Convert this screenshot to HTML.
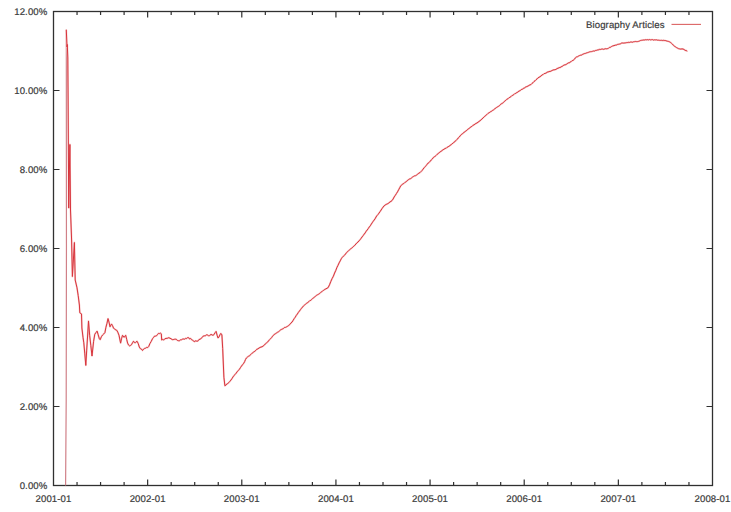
<!DOCTYPE html>
<html><head><meta charset="utf-8"><style>
html,body{margin:0;padding:0;background:#fff;}
body{width:731px;height:512px;overflow:hidden;}
svg{display:block;}
text{font-family:"Liberation Sans",sans-serif;font-size:9.6px;letter-spacing:0.1px;text-rendering:geometricPrecision;fill:#3c3c3c;stroke:#3c3c3c;stroke-width:0.2px;}
</style></head><body>
<svg width="731" height="512" viewBox="0 0 731 512">
<rect x="0" y="0" width="731" height="512" fill="#fff"/>
<path d="M53.5,485.50 h6 M712.5,485.50 h-6 M53.5,406.50 h6 M712.5,406.50 h-6 M53.5,327.50 h6 M712.5,327.50 h-6 M53.5,248.50 h6 M712.5,248.50 h-6 M53.5,169.50 h6 M712.5,169.50 h-6 M53.5,90.50 h6 M712.5,90.50 h-6 M53.5,11.50 h6 M712.5,11.50 h-6 M77.04,485.5 v-3.5 M77.04,11.5 v3.5 M100.57,485.5 v-3.5 M100.57,11.5 v3.5 M124.11,485.5 v-3.5 M124.11,11.5 v3.5 M147.64,485.5 v-6 M147.64,11.5 v6 M171.18,485.5 v-3.5 M171.18,11.5 v3.5 M194.71,485.5 v-3.5 M194.71,11.5 v3.5 M218.25,485.5 v-3.5 M218.25,11.5 v3.5 M241.79,485.5 v-6 M241.79,11.5 v6 M265.32,485.5 v-3.5 M265.32,11.5 v3.5 M288.86,485.5 v-3.5 M288.86,11.5 v3.5 M312.39,485.5 v-3.5 M312.39,11.5 v3.5 M335.93,485.5 v-6 M335.93,11.5 v6 M359.46,485.5 v-3.5 M359.46,11.5 v3.5 M383.00,485.5 v-3.5 M383.00,11.5 v3.5 M406.54,485.5 v-3.5 M406.54,11.5 v3.5 M430.07,485.5 v-6 M430.07,11.5 v6 M453.61,485.5 v-3.5 M453.61,11.5 v3.5 M477.14,485.5 v-3.5 M477.14,11.5 v3.5 M500.68,485.5 v-3.5 M500.68,11.5 v3.5 M524.21,485.5 v-6 M524.21,11.5 v6 M547.75,485.5 v-3.5 M547.75,11.5 v3.5 M571.29,485.5 v-3.5 M571.29,11.5 v3.5 M594.82,485.5 v-3.5 M594.82,11.5 v3.5 M618.36,485.5 v-6 M618.36,11.5 v6 M641.89,485.5 v-3.5 M641.89,11.5 v3.5 M665.43,485.5 v-3.5 M665.43,11.5 v3.5 M688.96,485.5 v-3.5 M688.96,11.5 v3.5" stroke="#303030" stroke-width="1.2" fill="none"/>
<rect x="53.5" y="11.5" width="659.0" height="474.0" stroke="#303030" stroke-width="1.3" fill="none"/>
<text x="47.4" y="488.80" text-anchor="end">0.00%</text>
<text x="47.4" y="409.80" text-anchor="end">2.00%</text>
<text x="47.4" y="330.80" text-anchor="end">4.00%</text>
<text x="47.4" y="251.80" text-anchor="end">6.00%</text>
<text x="47.4" y="172.80" text-anchor="end">8.00%</text>
<text x="47.4" y="93.80" text-anchor="end">10.00%</text>
<text x="47.4" y="14.80" text-anchor="end">12.00%</text>
<text x="53.50" y="501.5" text-anchor="middle">2001-01</text>
<text x="147.64" y="501.5" text-anchor="middle">2002-01</text>
<text x="241.79" y="501.5" text-anchor="middle">2003-01</text>
<text x="335.93" y="501.5" text-anchor="middle">2004-01</text>
<text x="430.07" y="501.5" text-anchor="middle">2005-01</text>
<text x="524.21" y="501.5" text-anchor="middle">2006-01</text>
<text x="618.36" y="501.5" text-anchor="middle">2007-01</text>
<text x="712.50" y="501.5" text-anchor="middle">2008-01</text>

<text x="664.6" y="28.3" text-anchor="end">Biography Articles</text>
<path d="M671.5,24.4 H701" stroke="#dc6464" stroke-width="1.1" fill="none"/>
<path d="M65.6,485.5 L66.2,400 L66.45,245 L66.3,29.7" stroke="#d08088" stroke-width="1.2" fill="none"/>
<path d="M66.3,29.7 L67.0,47.0 L67.3,44.5 L67.8,58.0 L68.1,100.0 L68.5,170.0 L68.7,208.0 L69.9,144.5 L70.5,210.0 L71.6,240.0 L72.4,276.5 L74.4,242.5 L75.2,280.0 L77.0,287.8 L78.2,295.6 L79.4,305.0 L79.8,312.8 L81.5,313.9 L81.9,328.0 L83.0,337.3 L83.8,342.8 L84.8,353.9 L85.8,365.4 L86.7,350.1 L87.6,336.0 L88.5,321.0 L89.7,335.8 L90.8,345.3 L92.0,356.0 L93.6,341.3 L94.8,334.2 L95.9,332.7 L97.1,331.1 L98.2,334.8 L99.4,338.9 L100.2,339.7 L101.4,336.7 L102.6,335.0 L103.8,333.9 L104.9,332.7 L105.9,327.4 L107.0,323.2 L108.0,318.6 L109.0,322.1 L110.0,326.8 L111.5,324.0 L112.5,325.6 L113.6,328.3 L114.6,328.8 L115.7,330.0 L116.7,330.2 L117.8,332.2 L119.0,335.3 L120.6,343.1 L121.5,338.8 L122.5,335.3 L124.1,337.3 L125.7,335.3 L126.7,339.4 L127.6,343.1 L128.6,345.1 L129.6,345.9 L130.6,345.4 L131.5,344.7 L132.5,342.8 L133.5,341.2 L134.4,342.6 L135.4,342.7 L137.0,341.2 L138.2,343.5 L139.3,347.0 L140.4,348.7 L141.4,349.0 L142.5,350.5 L143.5,349.2 L144.6,348.4 L145.6,348.2 L146.6,347.4 L147.7,347.5 L148.7,346.5 L149.9,343.6 L151.1,341.6 L152.7,338.4 L153.6,337.4 L154.6,336.1 L155.6,336.1 L156.6,335.7 L157.6,334.4 L158.5,333.4 L159.4,333.6 L160.4,333.1 L161.3,333.8 L161.7,340.0 L162.6,339.4 L163.6,340.0 L164.8,338.8 L166.0,338.4 L167.3,338.3 L168.7,337.7 L169.9,338.2 L171.0,338.7 L172.2,339.6 L173.2,339.6 L174.3,339.3 L175.3,339.2 L176.3,339.3 L177.3,340.4 L178.3,340.7 L179.3,340.8 L180.3,339.9 L181.4,339.8 L182.4,339.2 L183.4,339.0 L184.5,339.2 L185.5,338.4 L186.6,338.5 L187.6,337.6 L188.7,337.7 L189.6,339.0 L190.6,338.4 L191.5,339.6 L192.7,340.3 L193.8,341.2 L194.8,341.6 L195.8,340.7 L196.7,341.2 L197.7,341.2 L198.9,339.6 L200.1,339.2 L201.1,338.4 L202.2,337.5 L203.2,336.1 L204.2,335.8 L205.3,335.8 L206.3,334.9 L207.3,334.9 L208.4,335.7 L209.4,335.7 L211.0,334.4 L212.2,335.0 L213.3,335.3 L214.2,334.1 L215.2,332.6 L216.1,331.4 L217.1,335.2 L218.0,338.0 L218.9,337.1 L219.9,334.9 L220.8,333.4 L221.9,334.9 L222.7,348.6 L223.9,377.3 L224.9,385.8 L225.9,385.1 L226.9,383.9 L227.8,383.5 L228.8,382.6 L229.9,381.3 L230.9,380.1 L232.0,378.6 L233.0,376.9 L234.1,375.6 L235.1,374.3 L236.2,373.2 L237.2,371.6 L238.3,370.6 L239.3,369.4 L240.4,367.7 L241.5,366.1 L242.6,364.6 L243.7,363.3 L244.6,361.7 L245.5,359.5 L246.4,358.0 L247.5,357.0 L248.6,356.2 L249.7,355.6 L250.8,354.5 L251.8,353.4 L252.8,352.7 L253.8,351.9 L254.9,351.2 L255.9,350.3 L256.9,349.2 L257.9,348.9 L259.0,348.0 L260.0,347.5 L261.0,347.0 L262.1,346.8 L263.1,346.0 L264.2,345.3 L265.3,343.9 L266.4,343.0 L267.5,342.2 L268.5,340.9 L269.5,339.7 L270.6,338.7 L271.6,337.6 L272.6,336.2 L273.6,335.2 L274.6,334.1 L275.6,333.6 L276.6,332.9 L277.6,332.2 L278.6,331.7 L279.6,330.8 L280.6,329.9 L281.6,329.4 L282.6,328.9 L283.6,328.4 L284.6,327.4 L285.6,327.4 L286.6,326.8 L287.6,326.3 L288.6,325.5 L289.8,324.5 L290.9,323.1 L292.1,322.0 L293.1,320.4 L294.2,318.6 L295.2,317.3 L296.3,315.4 L297.3,314.1 L298.4,312.4 L299.4,311.1 L300.5,309.6 L301.5,308.3 L302.6,307.0 L303.6,305.8 L304.7,304.9 L305.7,304.1 L306.7,303.2 L307.8,302.5 L308.8,301.7 L309.8,300.6 L310.8,300.4 L311.7,299.4 L312.7,298.4 L313.7,297.7 L314.7,296.9 L315.6,296.2 L316.6,295.3 L317.6,294.7 L318.6,294.2 L319.6,293.5 L320.6,292.5 L321.7,291.8 L322.7,290.8 L323.7,290.3 L324.8,289.4 L325.9,288.9 L327.0,288.2 L328.1,287.7 L329.5,284.8 L330.8,281.5 L332.1,278.6 L333.4,276.2 L334.6,273.0 L335.7,270.7 L336.9,267.5 L338.0,265.3 L339.1,262.9 L340.2,260.9 L341.3,258.7 L342.4,257.2 L343.4,256.2 L344.5,255.3 L345.5,254.0 L346.6,252.5 L347.6,251.7 L348.6,250.6 L349.6,249.8 L350.7,248.8 L351.7,248.2 L352.7,247.2 L353.8,246.2 L354.8,245.3 L355.9,244.0 L356.9,242.9 L358.0,242.0 L359.0,240.9 L360.1,239.7 L361.1,238.3 L362.1,236.9 L363.2,235.6 L364.2,234.1 L365.2,232.9 L366.2,231.2 L367.2,230.0 L368.3,228.5 L369.3,226.9 L370.3,225.8 L371.3,224.1 L372.2,222.8 L373.2,221.3 L374.1,220.1 L375.1,218.8 L376.0,217.0 L377.0,215.6 L378.0,214.5 L379.0,213.1 L380.0,211.7 L381.1,210.0 L382.1,208.5 L383.1,207.1 L384.1,205.9 L385.1,205.1 L386.1,204.4 L387.1,204.0 L388.1,203.5 L389.0,202.8 L390.0,201.9 L391.0,201.4 L392.0,200.6 L393.1,199.0 L394.2,196.9 L395.3,195.4 L396.4,193.6 L397.5,191.9 L398.6,189.8 L399.7,187.8 L400.8,185.7 L401.8,184.9 L402.8,184.0 L403.8,183.5 L404.8,182.5 L405.7,182.0 L406.7,181.3 L407.7,180.2 L408.7,179.5 L409.7,178.9 L410.7,178.6 L411.6,177.9 L412.6,177.0 L413.6,176.4 L414.6,175.8 L415.5,175.7 L416.5,175.1 L417.5,174.3 L418.8,173.2 L420.1,172.5 L421.1,171.5 L422.1,170.5 L423.1,169.1 L424.2,167.7 L425.2,166.7 L426.2,165.5 L427.2,164.2 L428.2,163.0 L429.2,162.4 L430.3,161.1 L431.3,159.9 L432.3,159.0 L433.3,157.6 L434.3,156.8 L435.3,156.2 L436.2,155.4 L437.2,154.3 L438.2,153.5 L439.2,152.7 L440.1,151.9 L441.1,151.3 L442.1,150.5 L443.1,149.7 L444.1,149.2 L445.1,148.4 L446.1,148.3 L447.1,147.3 L448.1,146.8 L449.1,146.2 L450.1,145.4 L451.1,144.8 L452.1,143.7 L453.1,143.2 L454.1,142.1 L455.1,141.3 L456.1,140.5 L457.1,139.4 L458.2,138.0 L459.2,137.1 L460.2,135.8 L461.3,134.6 L462.3,133.8 L463.3,133.2 L464.3,132.0 L465.2,131.5 L466.2,130.8 L467.2,129.9 L468.2,129.0 L469.1,128.4 L470.1,127.6 L471.1,126.8 L472.1,126.3 L473.1,125.2 L474.1,124.8 L475.1,124.0 L476.0,123.4 L477.0,123.0 L478.0,122.2 L479.0,121.5 L480.0,120.7 L481.0,119.9 L481.9,119.1 L482.9,118.0 L483.9,117.2 L484.9,116.2 L485.8,115.4 L486.8,114.6 L487.8,113.6 L488.8,112.9 L489.8,112.3 L490.7,111.6 L491.7,111.2 L492.7,110.3 L493.7,109.8 L494.6,109.1 L495.6,108.0 L496.6,107.5 L497.6,106.8 L498.6,106.3 L499.6,105.5 L500.7,104.3 L501.7,103.6 L502.7,103.1 L503.7,102.2 L504.8,101.1 L505.8,100.3 L506.8,99.3 L507.9,98.8 L508.9,97.8 L509.9,97.3 L510.9,96.7 L511.9,95.6 L512.8,95.3 L513.8,94.6 L514.8,93.6 L515.8,93.4 L516.8,92.5 L517.8,92.2 L518.8,91.1 L519.8,90.9 L520.8,89.9 L521.8,89.3 L522.8,89.0 L523.8,88.1 L524.8,87.8 L525.8,86.9 L526.8,86.6 L527.9,86.1 L528.9,85.5 L529.9,84.9 L530.9,84.6 L531.9,83.5 L532.9,82.8 L534.0,81.5 L535.0,80.8 L536.0,79.8 L537.0,78.9 L538.0,77.9 L539.0,77.3 L540.0,76.7 L541.1,75.9 L542.1,74.9 L543.1,74.6 L544.1,73.6 L545.1,73.4 L546.1,73.1 L547.1,72.2 L548.1,72.0 L549.1,71.5 L550.1,71.5 L551.1,71.0 L552.1,70.5 L553.1,70.0 L554.1,69.8 L555.1,69.7 L556.1,69.3 L557.1,68.5 L558.1,68.3 L559.1,67.6 L560.1,67.6 L561.1,66.8 L562.2,66.4 L563.2,65.6 L564.2,65.0 L565.2,64.8 L566.2,64.4 L567.2,63.7 L568.2,62.9 L569.2,62.9 L570.1,62.1 L571.1,61.7 L572.1,60.7 L573.1,60.4 L574.3,59.4 L575.4,57.8 L576.6,56.9 L577.6,56.7 L578.6,56.0 L579.7,55.5 L580.7,55.2 L581.7,55.0 L582.7,54.3 L583.7,53.9 L584.7,53.5 L585.6,53.4 L586.6,52.9 L587.6,52.6 L588.6,52.3 L589.5,51.9 L590.5,51.7 L591.5,51.6 L592.5,51.3 L593.5,51.0 L594.4,51.1 L595.4,50.5 L596.4,50.4 L597.4,50.0 L598.3,49.9 L599.3,49.4 L600.3,49.5 L601.3,49.2 L602.3,49.0 L603.3,49.3 L604.3,49.1 L605.3,48.7 L606.3,48.8 L607.3,48.7 L608.4,48.4 L609.4,47.4 L610.5,47.3 L611.5,46.5 L612.6,46.0 L614.0,45.6 L615.3,45.2 L616.3,45.1 L617.3,44.5 L618.3,44.3 L619.3,44.1 L620.3,43.9 L621.3,43.2 L622.3,43.0 L623.3,43.1 L624.3,43.0 L625.3,42.9 L626.3,42.7 L627.3,42.6 L628.3,42.3 L629.3,42.5 L630.3,42.1 L631.3,42.0 L632.3,42.3 L633.4,41.8 L634.4,41.7 L635.4,41.5 L636.4,41.6 L637.4,41.6 L638.4,41.4 L639.5,41.0 L640.5,40.5 L641.5,40.3 L642.5,40.2 L643.5,40.0 L644.5,40.0 L645.5,39.7 L646.6,39.8 L647.6,39.6 L648.6,39.9 L649.6,39.5 L650.6,39.9 L651.6,39.7 L652.6,39.6 L653.5,40.1 L654.5,39.8 L655.5,39.9 L656.5,39.8 L657.5,40.2 L658.5,40.2 L659.4,40.3 L660.4,40.4 L661.4,40.3 L662.3,40.5 L663.3,40.3 L664.3,40.5 L665.2,40.5 L666.2,40.8 L667.3,41.2 L668.4,41.4 L669.5,41.8 L670.6,42.5 L671.5,43.3 L672.4,44.1 L673.3,45.2 L674.2,46.0 L675.3,46.7 L676.4,47.5 L677.5,48.1 L678.6,48.7 L679.7,48.9 L680.8,49.1 L681.9,48.9 L683.0,49.0 L684.1,49.5 L685.1,50.4 L686.2,50.5 L687.3,51.3" stroke="#f6c8c8" stroke-width="1.8" fill="none" stroke-linejoin="round"/>
<path d="M66.3,29.7 L67.0,47.0 L67.3,44.5 L67.8,58.0 L68.1,100.0 L68.5,170.0 L68.7,208.0 L69.9,144.5 L70.5,210.0 L71.6,240.0 L72.4,276.5 L74.4,242.5 L75.2,280.0 L77.0,287.8 L78.2,295.6 L79.4,305.0 L79.8,312.8 L81.5,313.9 L81.9,328.0 L83.0,337.3 L83.8,342.8 L84.8,353.9 L85.8,365.4 L86.7,350.1 L87.6,336.0 L88.5,321.0 L89.7,335.8 L90.8,345.3 L92.0,356.0 L93.6,341.3 L94.8,334.2 L95.9,332.7 L97.1,331.1 L98.2,334.8 L99.4,338.9 L100.2,339.7 L101.4,336.7 L102.6,335.0 L103.8,333.9 L104.9,332.7 L105.9,327.4 L107.0,323.2 L108.0,318.6 L109.0,322.1 L110.0,326.8 L111.5,324.0 L112.5,325.6 L113.6,328.3 L114.6,328.8 L115.7,330.0 L116.7,330.2 L117.8,332.2 L119.0,335.3 L120.6,343.1 L121.5,338.8 L122.5,335.3 L124.1,337.3 L125.7,335.3 L126.7,339.4 L127.6,343.1 L128.6,345.1 L129.6,345.9 L130.6,345.4 L131.5,344.7 L132.5,342.8 L133.5,341.2 L134.4,342.6 L135.4,342.7 L137.0,341.2 L138.2,343.5 L139.3,347.0 L140.4,348.7 L141.4,349.0 L142.5,350.5 L143.5,349.2 L144.6,348.4 L145.6,348.2 L146.6,347.4 L147.7,347.5 L148.7,346.5 L149.9,343.6 L151.1,341.6 L152.7,338.4 L153.6,337.4 L154.6,336.1 L155.6,336.1 L156.6,335.7 L157.6,334.4 L158.5,333.4 L159.4,333.6 L160.4,333.1 L161.3,333.8 L161.7,340.0 L162.6,339.4 L163.6,340.0 L164.8,338.8 L166.0,338.4 L167.3,338.3 L168.7,337.7 L169.9,338.2 L171.0,338.7 L172.2,339.6 L173.2,339.6 L174.3,339.3 L175.3,339.2 L176.3,339.3 L177.3,340.4 L178.3,340.7 L179.3,340.8 L180.3,339.9 L181.4,339.8 L182.4,339.2 L183.4,339.0 L184.5,339.2 L185.5,338.4 L186.6,338.5 L187.6,337.6 L188.7,337.7 L189.6,339.0 L190.6,338.4 L191.5,339.6 L192.7,340.3 L193.8,341.2 L194.8,341.6 L195.8,340.7 L196.7,341.2 L197.7,341.2 L198.9,339.6 L200.1,339.2 L201.1,338.4 L202.2,337.5 L203.2,336.1 L204.2,335.8 L205.3,335.8 L206.3,334.9 L207.3,334.9 L208.4,335.7 L209.4,335.7 L211.0,334.4 L212.2,335.0 L213.3,335.3 L214.2,334.1 L215.2,332.6 L216.1,331.4 L217.1,335.2 L218.0,338.0 L218.9,337.1 L219.9,334.9 L220.8,333.4 L221.9,334.9 L222.7,348.6 L223.9,377.3 L224.9,385.8 L225.9,385.1 L226.9,383.9 L227.8,383.5 L228.8,382.6 L229.9,381.3 L230.9,380.1 L232.0,378.6 L233.0,376.9 L234.1,375.6 L235.1,374.3 L236.2,373.2 L237.2,371.6 L238.3,370.6 L239.3,369.4 L240.4,367.7 L241.5,366.1 L242.6,364.6 L243.7,363.3 L244.6,361.7 L245.5,359.5 L246.4,358.0 L247.5,357.0 L248.6,356.2 L249.7,355.6 L250.8,354.5 L251.8,353.4 L252.8,352.7 L253.8,351.9 L254.9,351.2 L255.9,350.3 L256.9,349.2 L257.9,348.9 L259.0,348.0 L260.0,347.5 L261.0,347.0 L262.1,346.8 L263.1,346.0 L264.2,345.3 L265.3,343.9 L266.4,343.0 L267.5,342.2 L268.5,340.9 L269.5,339.7 L270.6,338.7 L271.6,337.6 L272.6,336.2 L273.6,335.2 L274.6,334.1 L275.6,333.6 L276.6,332.9 L277.6,332.2 L278.6,331.7 L279.6,330.8 L280.6,329.9 L281.6,329.4 L282.6,328.9 L283.6,328.4 L284.6,327.4 L285.6,327.4 L286.6,326.8 L287.6,326.3 L288.6,325.5 L289.8,324.5 L290.9,323.1 L292.1,322.0 L293.1,320.4 L294.2,318.6 L295.2,317.3 L296.3,315.4 L297.3,314.1 L298.4,312.4 L299.4,311.1 L300.5,309.6 L301.5,308.3 L302.6,307.0 L303.6,305.8 L304.7,304.9 L305.7,304.1 L306.7,303.2 L307.8,302.5 L308.8,301.7 L309.8,300.6 L310.8,300.4 L311.7,299.4 L312.7,298.4 L313.7,297.7 L314.7,296.9 L315.6,296.2 L316.6,295.3 L317.6,294.7 L318.6,294.2 L319.6,293.5 L320.6,292.5 L321.7,291.8 L322.7,290.8 L323.7,290.3 L324.8,289.4 L325.9,288.9 L327.0,288.2 L328.1,287.7 L329.5,284.8 L330.8,281.5 L332.1,278.6 L333.4,276.2 L334.6,273.0 L335.7,270.7 L336.9,267.5 L338.0,265.3 L339.1,262.9 L340.2,260.9 L341.3,258.7 L342.4,257.2 L343.4,256.2 L344.5,255.3 L345.5,254.0 L346.6,252.5 L347.6,251.7 L348.6,250.6 L349.6,249.8 L350.7,248.8 L351.7,248.2 L352.7,247.2 L353.8,246.2 L354.8,245.3 L355.9,244.0 L356.9,242.9 L358.0,242.0 L359.0,240.9 L360.1,239.7 L361.1,238.3 L362.1,236.9 L363.2,235.6 L364.2,234.1 L365.2,232.9 L366.2,231.2 L367.2,230.0 L368.3,228.5 L369.3,226.9 L370.3,225.8 L371.3,224.1 L372.2,222.8 L373.2,221.3 L374.1,220.1 L375.1,218.8 L376.0,217.0 L377.0,215.6 L378.0,214.5 L379.0,213.1 L380.0,211.7 L381.1,210.0 L382.1,208.5 L383.1,207.1 L384.1,205.9 L385.1,205.1 L386.1,204.4 L387.1,204.0 L388.1,203.5 L389.0,202.8 L390.0,201.9 L391.0,201.4 L392.0,200.6 L393.1,199.0 L394.2,196.9 L395.3,195.4 L396.4,193.6 L397.5,191.9 L398.6,189.8 L399.7,187.8 L400.8,185.7 L401.8,184.9 L402.8,184.0 L403.8,183.5 L404.8,182.5 L405.7,182.0 L406.7,181.3 L407.7,180.2 L408.7,179.5 L409.7,178.9 L410.7,178.6 L411.6,177.9 L412.6,177.0 L413.6,176.4 L414.6,175.8 L415.5,175.7 L416.5,175.1 L417.5,174.3 L418.8,173.2 L420.1,172.5 L421.1,171.5 L422.1,170.5 L423.1,169.1 L424.2,167.7 L425.2,166.7 L426.2,165.5 L427.2,164.2 L428.2,163.0 L429.2,162.4 L430.3,161.1 L431.3,159.9 L432.3,159.0 L433.3,157.6 L434.3,156.8 L435.3,156.2 L436.2,155.4 L437.2,154.3 L438.2,153.5 L439.2,152.7 L440.1,151.9 L441.1,151.3 L442.1,150.5 L443.1,149.7 L444.1,149.2 L445.1,148.4 L446.1,148.3 L447.1,147.3 L448.1,146.8 L449.1,146.2 L450.1,145.4 L451.1,144.8 L452.1,143.7 L453.1,143.2 L454.1,142.1 L455.1,141.3 L456.1,140.5 L457.1,139.4 L458.2,138.0 L459.2,137.1 L460.2,135.8 L461.3,134.6 L462.3,133.8 L463.3,133.2 L464.3,132.0 L465.2,131.5 L466.2,130.8 L467.2,129.9 L468.2,129.0 L469.1,128.4 L470.1,127.6 L471.1,126.8 L472.1,126.3 L473.1,125.2 L474.1,124.8 L475.1,124.0 L476.0,123.4 L477.0,123.0 L478.0,122.2 L479.0,121.5 L480.0,120.7 L481.0,119.9 L481.9,119.1 L482.9,118.0 L483.9,117.2 L484.9,116.2 L485.8,115.4 L486.8,114.6 L487.8,113.6 L488.8,112.9 L489.8,112.3 L490.7,111.6 L491.7,111.2 L492.7,110.3 L493.7,109.8 L494.6,109.1 L495.6,108.0 L496.6,107.5 L497.6,106.8 L498.6,106.3 L499.6,105.5 L500.7,104.3 L501.7,103.6 L502.7,103.1 L503.7,102.2 L504.8,101.1 L505.8,100.3 L506.8,99.3 L507.9,98.8 L508.9,97.8 L509.9,97.3 L510.9,96.7 L511.9,95.6 L512.8,95.3 L513.8,94.6 L514.8,93.6 L515.8,93.4 L516.8,92.5 L517.8,92.2 L518.8,91.1 L519.8,90.9 L520.8,89.9 L521.8,89.3 L522.8,89.0 L523.8,88.1 L524.8,87.8 L525.8,86.9 L526.8,86.6 L527.9,86.1 L528.9,85.5 L529.9,84.9 L530.9,84.6 L531.9,83.5 L532.9,82.8 L534.0,81.5 L535.0,80.8 L536.0,79.8 L537.0,78.9 L538.0,77.9 L539.0,77.3 L540.0,76.7 L541.1,75.9 L542.1,74.9 L543.1,74.6 L544.1,73.6 L545.1,73.4 L546.1,73.1 L547.1,72.2 L548.1,72.0 L549.1,71.5 L550.1,71.5 L551.1,71.0 L552.1,70.5 L553.1,70.0 L554.1,69.8 L555.1,69.7 L556.1,69.3 L557.1,68.5 L558.1,68.3 L559.1,67.6 L560.1,67.6 L561.1,66.8 L562.2,66.4 L563.2,65.6 L564.2,65.0 L565.2,64.8 L566.2,64.4 L567.2,63.7 L568.2,62.9 L569.2,62.9 L570.1,62.1 L571.1,61.7 L572.1,60.7 L573.1,60.4 L574.3,59.4 L575.4,57.8 L576.6,56.9 L577.6,56.7 L578.6,56.0 L579.7,55.5 L580.7,55.2 L581.7,55.0 L582.7,54.3 L583.7,53.9 L584.7,53.5 L585.6,53.4 L586.6,52.9 L587.6,52.6 L588.6,52.3 L589.5,51.9 L590.5,51.7 L591.5,51.6 L592.5,51.3 L593.5,51.0 L594.4,51.1 L595.4,50.5 L596.4,50.4 L597.4,50.0 L598.3,49.9 L599.3,49.4 L600.3,49.5 L601.3,49.2 L602.3,49.0 L603.3,49.3 L604.3,49.1 L605.3,48.7 L606.3,48.8 L607.3,48.7 L608.4,48.4 L609.4,47.4 L610.5,47.3 L611.5,46.5 L612.6,46.0 L614.0,45.6 L615.3,45.2 L616.3,45.1 L617.3,44.5 L618.3,44.3 L619.3,44.1 L620.3,43.9 L621.3,43.2 L622.3,43.0 L623.3,43.1 L624.3,43.0 L625.3,42.9 L626.3,42.7 L627.3,42.6 L628.3,42.3 L629.3,42.5 L630.3,42.1 L631.3,42.0 L632.3,42.3 L633.4,41.8 L634.4,41.7 L635.4,41.5 L636.4,41.6 L637.4,41.6 L638.4,41.4 L639.5,41.0 L640.5,40.5 L641.5,40.3 L642.5,40.2 L643.5,40.0 L644.5,40.0 L645.5,39.7 L646.6,39.8 L647.6,39.6 L648.6,39.9 L649.6,39.5 L650.6,39.9 L651.6,39.7 L652.6,39.6 L653.5,40.1 L654.5,39.8 L655.5,39.9 L656.5,39.8 L657.5,40.2 L658.5,40.2 L659.4,40.3 L660.4,40.4 L661.4,40.3 L662.3,40.5 L663.3,40.3 L664.3,40.5 L665.2,40.5 L666.2,40.8 L667.3,41.2 L668.4,41.4 L669.5,41.8 L670.6,42.5 L671.5,43.3 L672.4,44.1 L673.3,45.2 L674.2,46.0 L675.3,46.7 L676.4,47.5 L677.5,48.1 L678.6,48.7 L679.7,48.9 L680.8,49.1 L681.9,48.9 L683.0,49.0 L684.1,49.5 L685.1,50.4 L686.2,50.5 L687.3,51.3" stroke="#d8343c" stroke-width="1.0" fill="none" stroke-linejoin="round"/>
</svg>
</body></html>
